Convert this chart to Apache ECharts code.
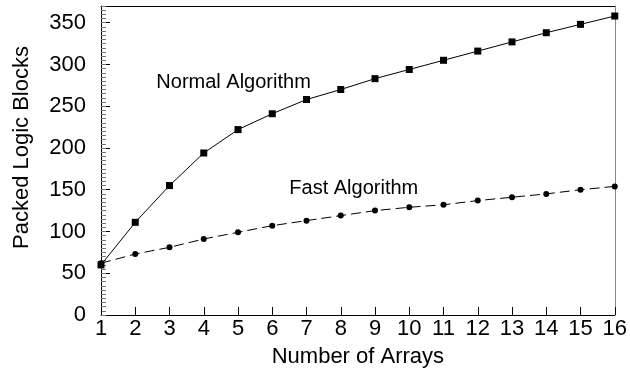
<!DOCTYPE html>
<html>
<head>
<meta charset="utf-8">
<script src="https://cdn.jsdelivr.net/npm/echarts@6/dist/echarts.min.js"></script>
<style>html,body{margin:0;padding:0;background:#fff}#c{width:630px;height:375px}</style>
</head>
<body>
<div id="c"></div>
<script>
const arrays = [1,2,3,4,5,6,7,8,9,10,11,12,13,14,15,16];
const normalAlgorithm = [60,111,155,194,222,241,258,270,283,294,305,316,327,338,348,358];
const fastAlgorithm = [62,73,81,91,99,107,113,119,125,129,132,137,141,145,150,154];
const seriesLabels = ['Normal Algorithm','Fast Algorithm'];
const labelAnchors = [[4.87,279],[8.38,151.5]];
const xTitle = 'Number of Arrays';
const yTitle = 'Packed Logic Blocks';

const font = 'Liberation Sans, Arial, Helvetica, sans-serif';
const chart = echarts.init(document.getElementById('c'), null, {renderer:'canvas'});
chart.setOption({
  animation:false,
  backgroundColor:'#fff',
  grid:{left:101,right:13,top:6,bottom:60,containLabel:false},
  xAxis:[{
    type:'value',min:1,max:16,interval:1,position:'bottom',
    name:xTitle,nameLocation:'middle',nameGap:31,
    nameTextStyle:{fontFamily:font,fontSize:22,color:'#000'},
    axisLine:{show:true,lineStyle:{color:'#000',width:1}},
    axisTick:{show:true,inside:true,length:8,lineStyle:{color:'#000'}},
    axisLabel:{show:true,margin:3,fontFamily:font,fontSize:22,color:'#000'},
    splitLine:{show:false}
  },{
    type:'value',min:1,max:16,position:'top',
    axisLine:{show:true,onZero:false,lineStyle:{color:'#000',width:1}},
    axisTick:{show:false},axisLabel:{show:false},splitLine:{show:false}
  }],
  yAxis:[{
    type:'value',min:0,max:370,interval:50,position:'left',
    name:yTitle,nameLocation:'middle',nameGap:68,
    nameTextStyle:{fontFamily:font,fontSize:22,color:'#000',padding:[0,0,0,26]},
    axisLine:{show:true,lineStyle:{color:'#000',width:1}},
    axisTick:{show:true,inside:true,length:9,lineStyle:{color:'#000'}},
    axisLabel:{show:true,margin:15,fontFamily:font,fontSize:22,color:'#000',
      formatter:v=> (v%50===0? String(v):'')},
    splitLine:{show:false}
  },{
    type:'value',min:0,max:370,interval:5,position:'left',
    axisLine:{show:false},
    axisTick:{show:true,inside:true,length:5,lineStyle:{color:'#777'}},
    axisLabel:{show:false},splitLine:{show:false}
  },{
    type:'value',min:0,max:370,position:'right',
    axisLine:{show:true,onZero:false,lineStyle:{color:'#888',width:1}},
    axisTick:{show:false},axisLabel:{show:false},splitLine:{show:false}
  }],
  series:[{
    name:seriesLabels[0],type:'line',xAxisIndex:0,yAxisIndex:0,
    data:arrays.map((x,i)=>[x,normalAlgorithm[i]]),
    symbol:'rect',symbolSize:7,showAllSymbol:true,
    lineStyle:{color:'#000',width:1,type:'solid'},
    itemStyle:{color:'#000',borderWidth:0},z:3
  },{
    name:seriesLabels[1],type:'line',xAxisIndex:0,yAxisIndex:0,
    data:arrays.map((x,i)=>[x,fastAlgorithm[i]]),
    symbol:'circle',symbolSize:6,showAllSymbol:true,
    lineStyle:{color:'#000',width:1,type:[10,5]},
    itemStyle:{color:'#000',borderWidth:0},z:2
  },{
    type:'scatter',xAxisIndex:0,yAxisIndex:0,symbolSize:0,silent:true,
    itemStyle:{opacity:1,color:'#000'},
    data:labelAnchors.map((p,i)=>[p[0],p[1],seriesLabels[i]]),
    label:{show:true,position:'inside',formatter:p=>p.data[2],
      fontFamily:font,fontSize:20,color:'#000',textBorderWidth:0}
  }]
});
</script>
</body>
</html>
